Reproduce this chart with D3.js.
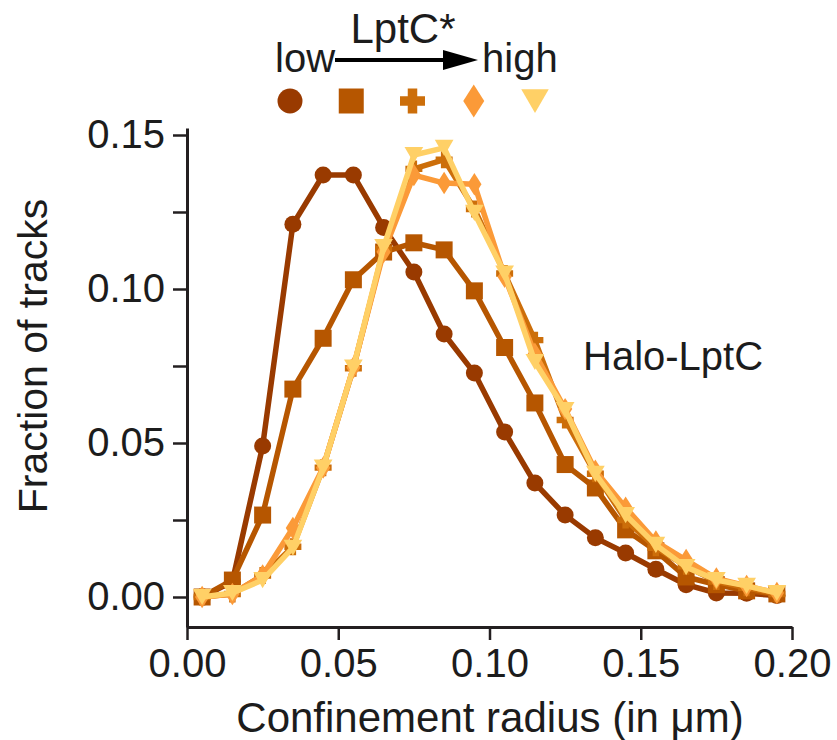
<!DOCTYPE html>
<html>
<head>
<meta charset="utf-8">
<script src="https://cdn.jsdelivr.net/npm/d3@7"></script>
<style>
  body { margin: 0; background: #fff; }
  svg text { font-family: "Liberation Sans", Arial, sans-serif; fill: #1c1c1c; }
</style>
</head>
<body>
<div id="chart"></div>
<script>
// bin centres (confinement radius, µm)
const radius = [0.005, 0.015, 0.025, 0.035, 0.045, 0.055, 0.065, 0.075, 0.085, 0.095,
                0.105, 0.115, 0.125, 0.135, 0.145, 0.155, 0.165, 0.175, 0.185, 0.195];

// fraction of tracks, LptC* level low -> high
const lvl1 = [0.000, 0.005, 0.049, 0.121, 0.137, 0.137, 0.120, 0.1055, 0.0854, 0.0727,
              0.0536, 0.037, 0.0266, 0.0192, 0.0143, 0.009, 0.004, 0.0013, 0.0012, 0.0005];
const lvl2 = [0.000, 0.0055, 0.0266, 0.0675, 0.084, 0.103, 0.112, 0.115, 0.1127, 0.0994,
              0.081, 0.063, 0.043, 0.0354, 0.0218, 0.015, 0.0065, 0.004, 0.002, 0.001];
const lvl3 = [0.000, 0.001, 0.007, 0.0163, 0.042, 0.0743, 0.113, 0.139, 0.142, 0.126,
              0.105, 0.0834, 0.0575, 0.040, 0.025, 0.016, 0.010, 0.005, 0.003, 0.001];
const lvl4 = [0.000, 0.001, 0.007, 0.0224, 0.042, 0.0745, 0.112, 0.137, 0.1344, 0.134,
              0.104, 0.079, 0.061, 0.041, 0.029, 0.018, 0.012, 0.006, 0.0036, 0.0013];
const lvl5 = [0.000, 0.0013, 0.0055, 0.016, 0.042, 0.0745, 0.1136, 0.1435, 0.1458, 0.1247,
              0.105, 0.0763, 0.0607, 0.040, 0.0266, 0.0169, 0.0097, 0.0055, 0.0036, 0.0013];

const xTicks = [0, 0.05, 0.10, 0.15, 0.20];
const yTicks = [0, 0.025, 0.05, 0.075, 0.10, 0.125, 0.15];

const colors = ["#993a00", "#b65600", "#cc6e0a", "#fb9a38", "#ffd066"];
const shapes = ["circle", "square", "cross", "diamond", "triangle"];
const allSeries = [lvl1, lvl2, lvl3, lvl4, lvl5];

const W = 837, H = 740;
const svg = d3.select("#chart").append("svg")
  .attr("width", W).attr("height", H);

// scales: axis lines run a bit past the data range like the original
let x = d3.scaleLinear().domain([0, 0.2]).range([187, 792]);
let y = d3.scaleLinear().domain([0, 0.15]).range([597, 135]);
const yLo = y.invert(627), yHi = y.invert(128);
y.domain([yLo, yHi]).range([627, 128]);

// symbol path generator
function markerPath(kind, s) {
  if (kind === "circle") return d3.symbol(d3.symbolCircle, Math.PI * s * s / 4)();
  if (kind === "square") return d3.symbol(d3.symbolSquare, s * s)();
  if (kind === "cross") {
    const a = s / 2, t = s * 0.19;
    return `M${-a},${-t}H${-t}V${-a}H${t}V${-t}H${a}V${t}H${t}V${a}H${-t}V${t}H${-a}Z`;
  }
  if (kind === "diamond") {
    const w = s * 0.42, h = s * 0.66;
    return `M0,${-h}L${w},0L0,${h}L${-w},0Z`;
  }
  // downward triangle
  const w = s * 0.55, h = s * 0.95;
  return `M${-w},${-h / 2}L${w},${-h / 2}L0,${h / 2}Z`;
}

// axes
const yAxis = svg.append("g")
  .attr("transform", `translate(${x(0)},0)`)
  .call(d3.axisLeft(y).tickValues(yTicks).tickSize(14).tickSizeOuter(0)
    .tickFormat(d => (Math.round(d * 1000) % 50 === 0) ? d3.format(".2f")(d) : ""));
yAxis.select(".domain").attr("stroke", "#231f20").attr("stroke-width", 3);
yAxis.selectAll(".tick line").attr("stroke", "#231f20").attr("stroke-width", 2.5);
yAxis.selectAll(".tick text").attr("font-size", 40).attr("x", -22)
  .attr("font-family", "Liberation Sans, Arial, sans-serif").attr("fill", "#1c1c1c");

const xAxis = svg.append("g")
  .attr("transform", `translate(0,${y(yLo)})`)
  .call(d3.axisBottom(x).tickValues(xTicks).tickSize(13).tickSizeOuter(0)
    .tickFormat(d3.format(".2f")));
xAxis.select(".domain").attr("stroke", "#231f20").attr("stroke-width", 3);
xAxis.selectAll(".tick line").attr("stroke", "#231f20").attr("stroke-width", 2.5);
xAxis.selectAll(".tick text").attr("font-size", 40).attr("y", 22)
  .attr("font-family", "Liberation Sans, Arial, sans-serif").attr("fill", "#1c1c1c");

// axis titles
svg.append("text")
  .attr("x", 490).attr("y", 732)
  .attr("text-anchor", "middle").attr("font-size", 42)
  .text("Confinement radius (in \u03bcm)");

svg.append("text")
  .attr("transform", "translate(47,356) rotate(-90)")
  .attr("text-anchor", "middle").attr("font-size", 41)
  .text("Fraction of tracks");

svg.append("text")
  .attr("x", 583).attr("y", 370)
  .attr("font-size", 40)
  .text("Halo-LptC");

// lines + markers
const line = d3.line()
  .x((d, i) => x(radius[i]))
  .y(d => y(d));

allSeries.forEach((vals, k) => {
  const g = svg.append("g");
  g.append("path")
    .datum(vals)
    .attr("d", line)
    .attr("fill", "none")
    .attr("stroke", colors[k])
    .attr("stroke-width", 5.5)
    .attr("stroke-linejoin", "round");
  g.selectAll("path.mk")
    .data(vals)
    .enter()
    .append("path")
      .attr("class", "mk")
      .attr("d", markerPath(shapes[k], 17))
      .attr("transform", (d, i) => `translate(${x(radius[i])},${y(d)})`)
      .attr("fill", colors[k]);
});

// legend: LptC* arrow low -> high
svg.append("text")
  .attr("x", 403).attr("y", 43)
  .attr("text-anchor", "middle").attr("font-size", 42)
  .text("LptC*");
svg.append("text")
  .attr("x", 275).attr("y", 72).attr("font-size", 40).text("low");
svg.append("text")
  .attr("x", 482).attr("y", 72).attr("font-size", 40).text("high");
svg.append("line")
  .attr("x1", 335).attr("y1", 60).attr("x2", 452).attr("y2", 60)
  .attr("stroke", "#000").attr("stroke-width", 4);
svg.append("path")
  .attr("d", "M443,50 L478,60 L443,70 Z")
  .attr("fill", "#000");

const legendX = d3.scalePoint().domain(d3.range(5)).range([290, 535]);
shapes.forEach((s, k) => {
  svg.append("path")
    .attr("d", markerPath(s, s === "diamond" ? 25 : 25))
    .attr("transform", `translate(${legendX(k)},101)`)
    .attr("fill", colors[k]);
});
</script>
</body>
</html>
